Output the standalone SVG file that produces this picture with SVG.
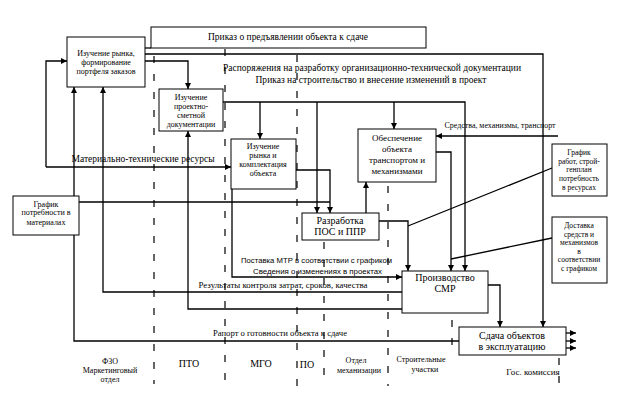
<svg xmlns="http://www.w3.org/2000/svg" width="623" height="409" viewBox="0 0 623 409">
<style>
.b{fill:#fff;stroke:#000;stroke-width:1}
.l{fill:none;stroke:#000;stroke-width:1.3}
.d{fill:none;stroke:#000;stroke-width:1.2;stroke-dasharray:7 11}
.t{font-family:"Liberation Serif","Times New Roman",serif;font-size:8px;text-anchor:middle;fill:#000}
.m{font-size:10px}
.s{font-family:"Liberation Sans",Arial,sans-serif;font-size:8px;fill:#000}
</style>
<defs>
<marker id="a" viewBox="0 0 6 6" refX="6" refY="3" markerWidth="6" markerHeight="6" markerUnits="userSpaceOnUse" orient="auto">
<path d="M0,0 L6,3 L0,6 z" fill="#000"/>
</marker>
</defs>
<rect width="623" height="409" fill="#fff"/>
<g id="lanes">
<line class="d" x1="154" y1="56" x2="154" y2="384"/>
<line class="d" x1="225" y1="49" x2="225" y2="384"/>
<line class="d" x1="297" y1="55" x2="297" y2="386"/>
<line class="d" x1="324" y1="242" x2="324" y2="386"/>
<line class="d" x1="388" y1="186" x2="388" y2="386"/>
<line class="d" x1="452" y1="320" x2="452" y2="352"/>
<line class="d" x1="559" y1="358" x2="559" y2="384"/>
</g>
<g id="connectors">
<path class="l" d="M46,167 V61 H67" marker-end="url(#a)"/>
<path class="l" d="M46,167 H231" marker-end="url(#a)"/>
<path class="l" d="M459,341 H74 V87" marker-end="url(#a)"/>
<path class="l" d="M402,292 H103 V87" marker-end="url(#a)"/>
<path class="l" d="M402,309 H188 V131" marker-end="url(#a)"/>
<path class="l" d="M145,61 H188 V89" marker-end="url(#a)"/>
<path class="l" d="M145,54 H543 V327" marker-end="url(#a)"/>
<path class="l" d="M145,48 H151"/>
<path class="l" d="M223,102 H465 V271" marker-end="url(#a)"/>
<path class="l" d="M260,102 V139" marker-end="url(#a)"/>
<path class="l" d="M317,102 V213" marker-end="url(#a)"/>
<path class="l" d="M394,102 V129" marker-end="url(#a)"/>
<path class="l" d="M296,170 H330 V213" marker-end="url(#a)"/>
<path class="l" d="M79,202 H330"/>
<path class="l" d="M232,189 V277 H402" marker-end="url(#a)"/>
<path class="l" d="M366,213 V182" marker-end="url(#a)"/>
<path class="l" d="M436,152 H451 V271" marker-end="url(#a)"/>
<path class="l" d="M558,136 H436" marker-end="url(#a)"/>
<path class="l" d="M379,221 H408 V271" marker-end="url(#a)"/>
<path class="l" d="M408,226 L552,168"/>
<path class="l" d="M451,259 L552,238"/>
<path class="l" d="M488,285 H500 V327" marker-end="url(#a)"/>
<path class="l" d="M566,333 H576" marker-end="url(#a)"/>
<path class="l" d="M566,341 H576" marker-end="url(#a)"/>
<path class="l" d="M566,348 H576" marker-end="url(#a)"/>
</g>
<g id="labels">
<text class="t" x="372" y="71" textLength="298" lengthAdjust="spacingAndGlyphs" style="font-size:10px">Распоряжения на разработку организационно-технической документации</text>
<text class="t" x="371" y="83" textLength="231" lengthAdjust="spacingAndGlyphs" style="font-size:10px">Приказ на строительство и внесение изменений в проект</text>
<text class="t" x="143" y="162" textLength="143" lengthAdjust="spacingAndGlyphs" style="font-size:10px">Материально-технические ресурсы</text>
<text class="t" x="500" y="128" textLength="111" lengthAdjust="spacingAndGlyphs" style="font-size:7.5px">Средства, механизмы, транспорт</text>
<text class="s" x="241" y="263" textLength="151" lengthAdjust="spacingAndGlyphs">Поставка МТР в соответствии с графиком</text>
<text class="s" x="253" y="274" textLength="129" lengthAdjust="spacingAndGlyphs">Сведения о изменениях в проектах</text>
<text class="t" x="283" y="288" textLength="169" lengthAdjust="spacingAndGlyphs" style="font-size:9px">Результаты контроля затрат, сроков, качества</text>
<text class="t" x="280" y="336" textLength="134" lengthAdjust="spacingAndGlyphs" style="font-size:9px">Рапорт о готовности объекта к сдаче</text>
<text class="t" x="110" y="364">ФЗО</text>
<text class="t" x="110" y="373">Маркетинговый</text>
<text class="t" x="110" y="382">отдел</text>
<text class="t m" x="189" y="367">ПТО</text>
<text class="t m" x="261" y="367">МГО</text>
<text class="t m" x="307" y="368">ПО</text>
<text class="t" x="356" y="363">Отдел</text>
<text class="t" x="359" y="373">механизации</text>
<text class="t" x="421" y="362">Строительные</text>
<text class="t" x="425" y="372">участки</text>
<text class="t" x="533" y="375" style="font-size:9px">Гос. комиссия</text>
</g>
<g id="n-prikaz">
<rect class="b" x="151" y="27" width="275" height="21"/>
<text class="t" x="288" y="40" textLength="160" lengthAdjust="spacingAndGlyphs" style="font-size:10px">Приказ о предъявлении объекта к сдаче</text>
</g>
<g id="n-market">
<rect class="b" x="67" y="37" width="78" height="50"/>
<text class="t" x="106" y="56">Изучение рынка,</text>
<text class="t" x="106" y="65">формирование</text>
<text class="t" x="106" y="74">портфеля заказов</text>
</g>
<g id="n-psd">
<rect class="b" x="159" y="89" width="64" height="42"/>
<text class="t" x="191" y="100">Изучение</text>
<text class="t" x="191" y="109">проектно-</text>
<text class="t" x="191" y="118">сметной</text>
<text class="t" x="191" y="127">документации</text>
</g>
<g id="n-komplekt">
<rect class="b" x="231" y="139" width="65" height="50"/>
<text class="t" x="263" y="149">Изучение</text>
<text class="t" x="263" y="158">рынка и</text>
<text class="t" x="263" y="167">комплектация</text>
<text class="t" x="263" y="176">объекта</text>
</g>
<g id="n-transport">
<rect class="b" x="358" y="129" width="78" height="53"/>
<text class="t" x="397" y="141" style="font-size:9px">Обеспечение</text>
<text class="t" x="397" y="152" style="font-size:9px">объекта</text>
<text class="t" x="397" y="163" style="font-size:9px">транспортом и</text>
<text class="t" x="397" y="174" style="font-size:9px">механизмами</text>
</g>
<g id="n-pos">
<rect class="b" x="302" y="213" width="77" height="27"/>
<text class="t m" x="340" y="224">Разработка</text>
<text class="t m" x="340" y="235">ПОС и ППР</text>
</g>
<g id="n-smr">
<rect class="b" x="402" y="271" width="86" height="42"/>
<text class="t m" x="445" y="281">Производство</text>
<text class="t m" x="445" y="292">СМР</text>
</g>
<g id="n-sdacha">
<rect class="b" x="459" y="327" width="107" height="28"/>
<text class="t m" x="512" y="339">Сдача объектов</text>
<text class="t m" x="512" y="350">в эксплуатацию</text>
</g>
<g id="n-grafik-mat">
<rect class="b" x="13" y="196" width="66" height="39"/>
<text class="t" x="46" y="207">График</text>
<text class="t" x="46" y="215">потребности в</text>
<text class="t" x="46" y="225">материалах</text>
</g>
<g id="n-grafik-rab">
<rect class="b" x="552" y="144" width="55" height="52"/>
<text class="t" x="579" y="155" style="font-size:7.5px">График</text>
<text class="t" x="579" y="164" style="font-size:7.5px">работ, строй-</text>
<text class="t" x="579" y="172" style="font-size:7.5px">генплан</text>
<text class="t" x="579" y="181" style="font-size:7.5px">потребность</text>
<text class="t" x="579" y="190" style="font-size:7.5px">в ресурсах</text>
</g>
<g id="n-dostavka">
<rect class="b" x="552" y="217" width="55" height="66"/>
<text class="t" x="579" y="228" style="font-size:7.5px">Доставка</text>
<text class="t" x="579" y="236.5" style="font-size:7.5px">средств и</text>
<text class="t" x="579" y="245" style="font-size:7.5px">механизмов</text>
<text class="t" x="579" y="253.5" style="font-size:7.5px">в</text>
<text class="t" x="579" y="262" style="font-size:7.5px">соответствии</text>
<text class="t" x="579" y="271" style="font-size:7.5px">с графиком</text>
</g>
</svg>
